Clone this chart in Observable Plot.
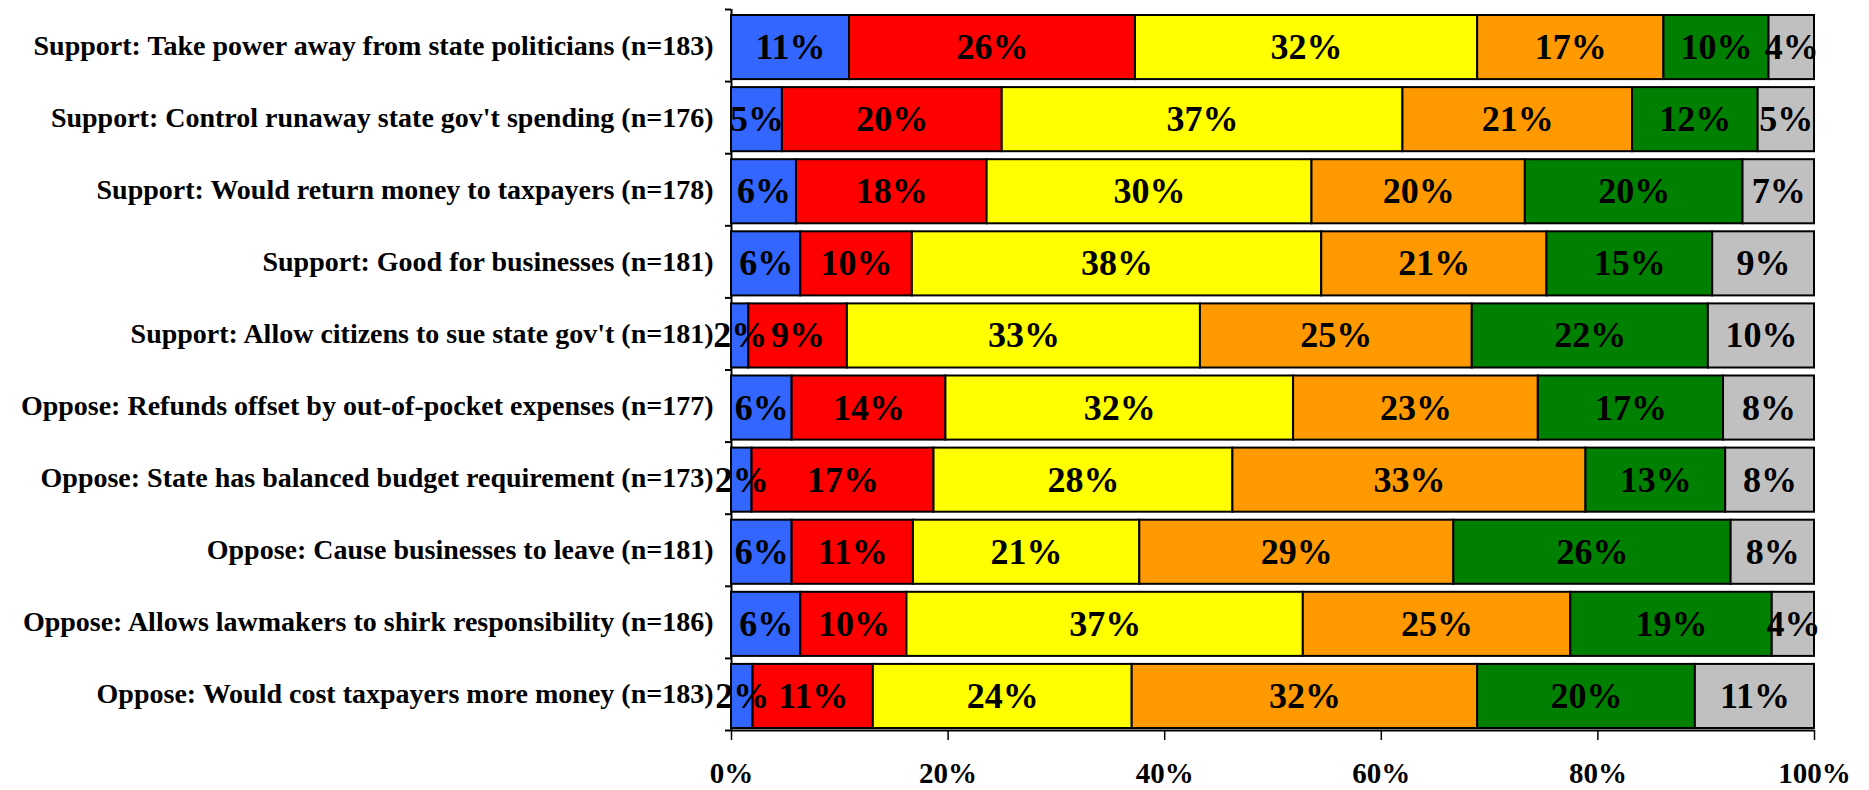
<!DOCTYPE html>
<html>
<head>
<meta charset="utf-8">
<script src="https://cdn.jsdelivr.net/npm/d3@7"></script>
<script src="https://cdn.jsdelivr.net/npm/@observablehq/plot@0.6"></script>
<style>
  html, body { margin: 0; padding: 0; background: #ffffff; }
  #chart { width: 1869px; height: 790px; }
</style>
</head>
<body>
<div id="chart"></div>
<script>
// Categories (top to bottom)
const categories = [
  "Support: Take power away from state politicians (n=183)",
  "Support: Control runaway state gov't spending (n=176)",
  "Support: Would return money to taxpayers (n=178)",
  "Support: Good for businesses (n=181)",
  "Support: Allow citizens to sue state gov't (n=181)",
  "Oppose: Refunds offset by out-of-pocket expenses (n=177)",
  "Oppose: State has balanced budget requirement (n=173)",
  "Oppose: Cause businesses to leave (n=181)",
  "Oppose: Allows lawmakers to shirk responsibility (n=186)",
  "Oppose: Would cost taxpayers more money (n=183)"
];

// Series (left to right), values in percent per category
const seriesNames = ["Series 1", "Series 2", "Series 3", "Series 4", "Series 5", "Series 6"];
const series1 = [10.9, 4.7, 6.0, 6.4, 1.6, 5.6, 1.9, 5.6, 6.4, 2.0];
const series2 = [26.4, 20.3, 17.6, 10.3, 9.1, 14.2, 16.8, 11.2, 9.8, 11.1];
const series3 = [31.6, 37.0, 30.0, 37.8, 32.6, 32.1, 27.6, 20.9, 36.6, 23.9];
const series4 = [17.2, 21.2, 19.7, 20.8, 25.1, 22.6, 32.6, 29.0, 24.7, 31.9];
const series5 = [9.7, 11.6, 20.1, 15.3, 21.8, 17.1, 12.9, 25.6, 18.6, 20.1];
const series6 = [4.2, 5.2, 6.6, 9.4, 9.8, 8.4, 8.2, 7.7, 3.9, 11.0];

const seriesColors = ["#3366FF", "#FF0000", "#FFFF00", "#FF9900", "#008000", "#C0C0C0"];

const xTicks = [0, 20, 40, 60, 80, 100];

// Build stacked table
const allSeries = [series1, series2, series3, series4, series5, series6];
const table = [];
categories.forEach((cat, i) => {
  let acc = 0;
  allSeries.forEach((vals, j) => {
    const v = vals[i];
    table.push({ category: cat, i, series: seriesNames[j], value: v, x1: acc, x2: acc + v });
    acc += v;
  });
});

const font = "'Liberation Serif', 'Times New Roman', serif";

const chart = Plot.plot({
  width: 1869,
  height: 790,
  marginLeft: 731,
  marginRight: 55,
  marginTop: 9,
  marginBottom: 60,
  style: { fontFamily: font, fontWeight: "bold", fontSize: "28px", color: "black", background: "white" },
  x: { domain: [0, 100] },
  y: { domain: [0, categories.length], reverse: true },
  color: { domain: seriesNames, range: seriesColors },
  marks: [
    Plot.ruleX([0], { stroke: "black", strokeWidth: 2 }),
    Plot.rect(table, {
      x1: "x1", x2: "x2",
      y1: d => d.i, y2: d => d.i + 1,
      fill: "series",
      stroke: "black", strokeWidth: 2,
      insetTop: 6, insetBottom: 2
    }),
    Plot.text(table, {
      x: d => (d.x1 + d.x2) / 2,
      y: d => d.i + 0.5,
      dy: 2,
      text: d => Math.round(d.value) + "%",
      fontSize: 36, fontWeight: "bold", fill: "black"
    }),
    Plot.ruleY([categories.length], { stroke: "black", strokeWidth: 2 }),
    Plot.axisX({
      ticks: xTicks, tickSize: 10, tickPadding: 22,
      tickFormat: d => d + "%", fontSize: 29, stroke: "black", strokeWidth: 1.5, label: null
    }),
    Plot.axisY({
      ticks: d3.range(categories.length).map(i => i + 0.5),
      tickSize: 0, tickPadding: 18,
      tickFormat: v => categories[Math.floor(v)],
      fontSize: 28, label: null
    }),
    Plot.axisY({
      ticks: d3.range(categories.length + 1),
      tickSize: 6, tickFormat: () => "", stroke: "black", strokeWidth: 2, label: null
    })
  ]
});

document.getElementById("chart").appendChild(chart);
</script>
</body>
</html>
